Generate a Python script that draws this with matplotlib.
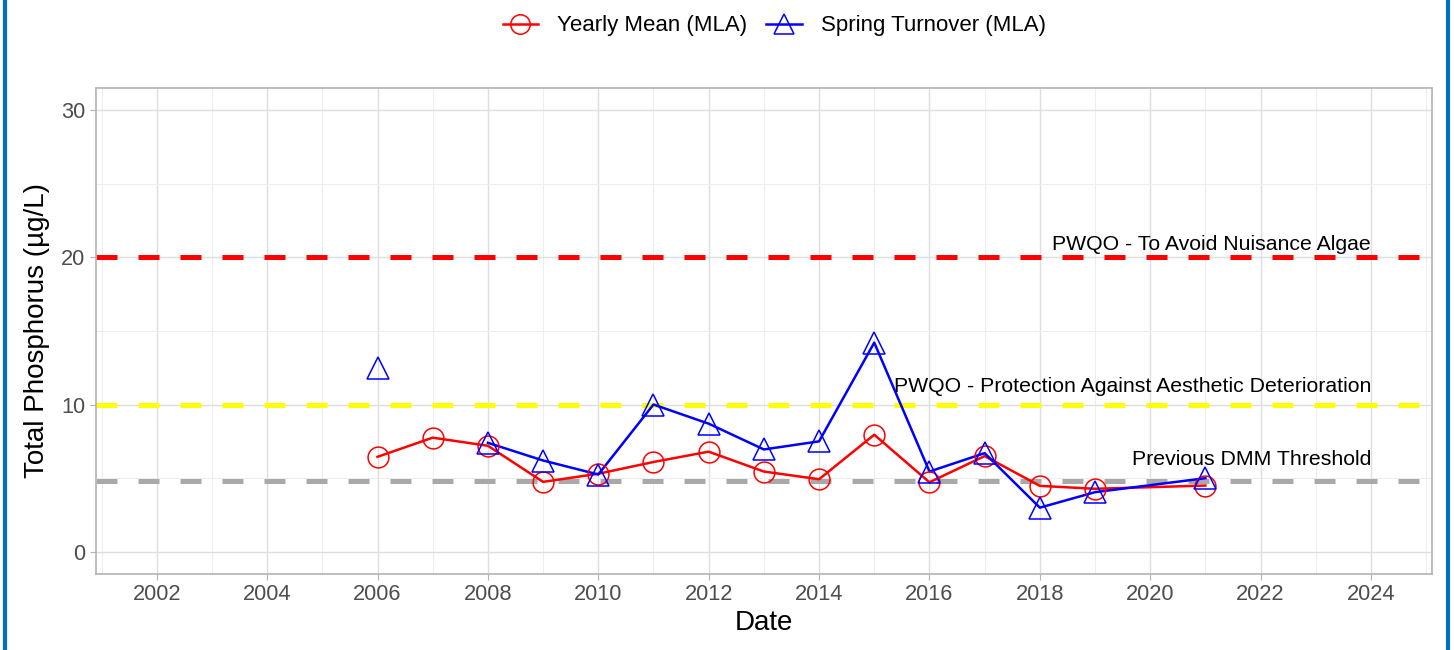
import matplotlib
matplotlib.use("Agg")
from matplotlib import pyplot as plt
from matplotlib.patches import Rectangle

plt.rcParams['font.family'] = ['Liberation Sans', 'DejaVu Sans']

# yearly mean total phosphorus (ug/L)
mean_years = [2006, 2007, 2008, 2009, 2010, 2011, 2012, 2013, 2014, 2015, 2016, 2017, 2018, 2019, 2021]
mean_tp = [6.45, 7.75, 7.2, 4.75, 5.3, 6.1, 6.8, 5.45, 4.93, 7.95, 4.72, 6.5, 4.48, 4.28, 4.5]

# spring turnover total phosphorus (ug/L); 2006 stands alone
spring_years = [2006, 2008, 2009, 2010, 2011, 2012, 2013, 2014, 2015, 2016, 2017, 2018, 2019, 2021]
spring_tp = [12.5, 7.4, 6.2, 5.25, 10.0, 8.7, 6.95, 7.5, 14.2, 5.45, 6.7, 3.0, 4.05, 5.0]

thresholds = [20, 10, 4.8]
threshold_labels = ["PWQO - To Avoid Nuisance Algae",
                    "PWQO - Protection Against Aesthetic Deterioration",
                    "Previous DMM Threshold"]
threshold_colors = ["#FF0000", "#FFFF00", "#A9A9A9"]

x_ticks = list(range(2002, 2025, 2))
y_ticks = [0, 10, 20, 30]


def style_axes(ax):
    ax.set_facecolor("white")
    for s in ax.spines.values():
        s.set_color("#B3B3B3")
        s.set_linewidth(1.2)
    ax.set_xticks(x_ticks)
    ax.set_xticks(range(2001, 2026, 2), minor=True)
    ax.set_yticks(y_ticks)
    ax.set_yticks([5, 15, 25], minor=True)
    ax.grid(which='major', color="#DEDEDE", linewidth=1.0)
    ax.grid(which='minor', color="#EDEDED", linewidth=0.7)
    ax.set_axisbelow(True)
    ax.tick_params(which='major', length=4, color="#B3B3B3", labelcolor="#4D4D4D", labelsize=15.7)
    ax.tick_params(which='minor', length=0)
    ax.set_xlim(2000.9, 2025.1)
    ax.set_ylim(-1.5, 31.5)


fig = plt.figure(figsize=(14.55, 6.5), dpi=100)
ax = fig.add_axes([0.066, 0.117, 0.918, 0.748])
style_axes(ax)

for val, lab, col in zip(thresholds, threshold_labels, threshold_colors):
    ax.axhline(val, color=col, linewidth=3.6, dashes=(4.2, 4.2), zorder=2)

ax.text(2024.0, 20.25, threshold_labels[0], ha='right', va='bottom', fontsize=15.3)
ax.text(2024.0, 10.6, threshold_labels[1], ha='right', va='bottom', fontsize=15.3)
ax.text(2024.0, 5.6, threshold_labels[2], ha='right', va='bottom', fontsize=15.3)

# 2006 spring point has no neighbour, so the line starts at 2008
ax.plot(mean_years, mean_tp, '-', color="#FF0000", linewidth=1.8, zorder=3)
ax.plot(spring_years[1:], spring_tp[1:], '-', color="#0000FF", linewidth=1.8, zorder=3)
ax.plot(mean_years, mean_tp, 'o', color="#FF0000", markerfacecolor='none',
        markersize=15, markeredgewidth=1.1, zorder=4)
ax.plot(spring_years, spring_tp, '^', color="#0000FF", markerfacecolor='none',
        markersize=16, markeredgewidth=1.1, zorder=4)

h1, = ax.plot([], [], 'o-', color="#FF0000", markerfacecolor='none', markersize=14,
              markeredgewidth=1.1, linewidth=1.8, label="Yearly Mean (MLA)")
h2, = ax.plot([], [], '^-', color="#0000FF", markerfacecolor='none', markersize=15,
              markeredgewidth=1.1, linewidth=1.8, label="Spring Turnover (MLA)")
fig.legend(handles=[h1, h2], loc='center', bbox_to_anchor=(0.532, 0.96), ncol=2,
           frameon=False, fontsize=16, handlelength=1.6, columnspacing=0.85,
           handletextpad=0.85)

ax.set_xlabel("Date", fontsize=20, labelpad=3)
ax.set_ylabel("Total Phosphorus (\u00b5g/L)", fontsize=20, labelpad=8)

# blue frame around the whole figure
fig.patches.append(Rectangle((0.0036, -0.02), 0.9918, 1.04, transform=fig.transFigure,
                             fill=False, edgecolor="#0070C0", linewidth=3.0))

fig.savefig("out.png", dpi=100)
